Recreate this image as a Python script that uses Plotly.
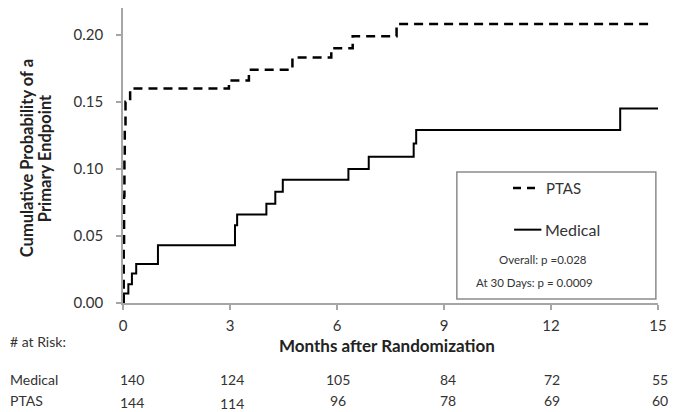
import plotly.graph_objects as go

# ---- data ----
ptas_months = [0, 0.02, 0.03, 0.04, 0.05, 0.07, 0.2, 2.97, 3.53, 4.75, 5.84, 6.44, 7.67, 14.8]
ptas_prob = [0, 0.04, 0.08, 0.11, 0.13, 0.15, 0.16, 0.166, 0.174, 0.183, 0.190, 0.199, 0.208, 0.208]

medical_months = [0, 0.02, 0.15, 0.25, 0.37, 0.98, 3.14, 3.2, 4.02, 4.27, 4.48, 6.32, 6.89, 8.15, 8.22, 13.94, 15]
medical_prob = [0, 0.007, 0.014, 0.022, 0.029, 0.043, 0.058, 0.066, 0.074, 0.083, 0.092, 0.100, 0.109, 0.119, 0.129, 0.145, 0.145]

x_ticks = [0, 3, 6, 9, 12, 15]
y_ticks = [0.00, 0.05, 0.10, 0.15, 0.20]
y_tick_labels = ["0.00", "0.05", "0.10", "0.15", "0.20"]

risk_months = [0, 3, 6, 9, 12, 15]
risk_medical = [140, 124, 105, 84, 72, 55]
risk_ptas = [144, 114, 96, 78, 69, 60]

FONT = "Lato"
TXT = "#333333"
AXC = "#a6a6a6"

fig = go.Figure()
fig.add_trace(go.Scatter(x=ptas_months, y=ptas_prob, mode="lines", line_shape="hv",
                         line=dict(color="black", width=2.5, dash="9px,6px"), name="PTAS"))
fig.add_trace(go.Scatter(x=medical_months, y=medical_prob, mode="lines", line_shape="hv",
                         line=dict(color="black", width=2), name="Medical"))

fig.update_layout(
    width=675, height=412,
    margin=dict(l=123, r=12, t=8, b=109),
    paper_bgcolor="white", plot_bgcolor="white",
    showlegend=False,
    font=dict(family=FONT, color=TXT, size=15),
)
fig.update_xaxes(range=[0, 15], tickvals=x_ticks, ticks="outside", ticklen=5, tickcolor=AXC,
                 tickwidth=1.5,
                 showline=True, linecolor=AXC, linewidth=1.5, showgrid=False, zeroline=False,
                 tickfont=dict(family=FONT, size=15, color=TXT), ticklabelstandoff=3)
fig.update_yaxes(range=[0, 0.22], tickvals=y_ticks, ticktext=y_tick_labels, ticks="outside",
                 ticklen=5, tickcolor=AXC, tickwidth=1.5, showline=True, linecolor=AXC, linewidth=1.5,
                 showgrid=False, zeroline=False,
                 tickfont=dict(family=FONT, size=15, color=TXT), ticklabelstandoff=10)

annotations = []
# axis titles
annotations.append(dict(text="<b>Months after Randomization</b>", x=0.4926, y=-0.145,
                        xref="paper", yref="paper", showarrow=False, xanchor="center",
                        yanchor="middle", font=dict(family=FONT, size=17, color="#222")))
annotations.append(dict(text="<b>Cumulative Probability of a</b>", x=-0.178, y=0.49,
                        xref="paper", yref="paper", showarrow=False, textangle=-90,
                        xanchor="center", yanchor="middle",
                        font=dict(family=FONT, size=16.5, color="#222")))
annotations.append(dict(text="<b>Primary Endpoint</b>", x=-0.1444, y=0.49,
                        xref="paper", yref="paper", showarrow=False, textangle=-90,
                        xanchor="center", yanchor="middle",
                        font=dict(family=FONT, size=16.5, color="#222")))
# at risk table
annotations.append(dict(text="# at Risk:", x=-0.2148, y=-0.129, xref="paper", yref="paper",
                        showarrow=False, xanchor="left", yanchor="middle",
                        font=dict(family=FONT, size=14, color=TXT)))
annotations.append(dict(text="Medical", x=-0.2148, y=-0.261, xref="paper", yref="paper",
                        showarrow=False, xanchor="left", yanchor="middle",
                        font=dict(family=FONT, size=14, color=TXT)))
annotations.append(dict(text="PTAS", x=-0.2148, y=-0.332, xref="paper", yref="paper",
                        showarrow=False, xanchor="left", yanchor="middle",
                        font=dict(family=FONT, size=14, color=TXT)))
xshifts = [9, 2, 1, 4, 1, 2]
ptas_yshift = [-2, -3, 0, 0, 0, 0]
for i, m in enumerate(risk_months):
    annotations.append(dict(text=str(risk_medical[i]), x=m, y=-0.261, xref="x", yref="paper",
                            showarrow=False, xanchor="center", yanchor="middle", xshift=xshifts[i],
                            font=dict(family=FONT, size=14, color=TXT)))
    annotations.append(dict(text=str(risk_ptas[i]), x=m, y=-0.332, xref="x", yref="paper",
                            showarrow=False, xanchor="center", yanchor="middle", xshift=xshifts[i],
                            yshift=ptas_yshift[i], font=dict(family=FONT, size=14, color=TXT)))

# legend box contents
annotations.append(dict(text="PTAS", x=0.787, y=0.39, xref="paper", yref="paper", showarrow=False,
                        xanchor="left", yanchor="middle", font=dict(family=FONT, size=15, color=TXT)))
annotations.append(dict(text="Medical", x=0.785, y=0.2486, xref="paper", yref="paper", showarrow=False,
                        xanchor="left", yanchor="middle", font=dict(family=FONT, size=16, color=TXT)))
annotations.append(dict(text="Overall: p =0.028", x=0.785, y=0.149, xref="paper", yref="paper",
                        showarrow=False, xanchor="center", yanchor="middle",
                        font=dict(family=FONT, size=11.5, color=TXT)))
annotations.append(dict(text="At 30 Days: p = 0.0009", x=0.769, y=0.0695, xref="paper", yref="paper",
                        showarrow=False, xanchor="center", yanchor="middle",
                        font=dict(family=FONT, size=11.5, color=TXT)))

shapes = [
    dict(type="rect", xref="paper", yref="paper", x0=0.624, x1=0.996, y0=0.0136, y1=0.444,
         line=dict(color="#8c8c8c", width=1.5), fillcolor="white", layer="above"),
    dict(type="line", xref="paper", yref="paper", x0=0.729, x1=0.772, y0=0.39, y1=0.39,
         line=dict(color="black", width=2.5, dash="8px,6px")),
    dict(type="line", xref="paper", yref="paper", x0=0.731, x1=0.782, y0=0.2486, y1=0.2486,
         line=dict(color="black", width=2)),
]
fig.update_layout(annotations=annotations, shapes=shapes)

fig.write_html("out.html", config={"displayModeBar": False},
               post_script="document.body.style.margin='0';document.body.style.overflow='hidden';")
